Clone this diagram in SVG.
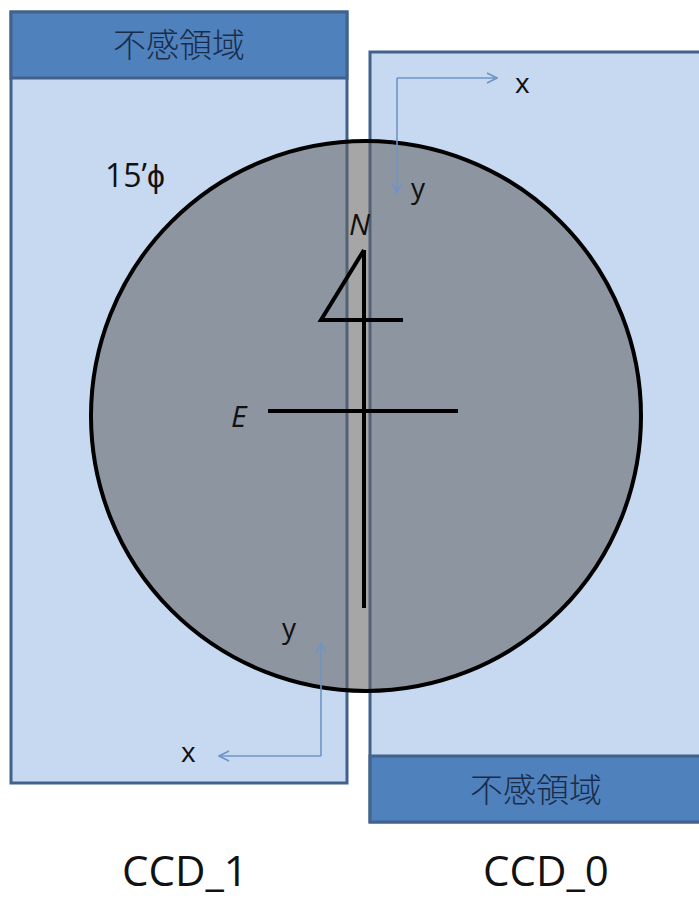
<svg xmlns="http://www.w3.org/2000/svg" width="699" height="899" viewBox="0 0 699 899">
<style>
.body{fill:#c6d9f1;stroke:#41628c;stroke-width:3}
.hdr{fill:#4f81bd;stroke:#41628c;stroke-width:3}
.hdrtxt{font-family:"Noto Sans CJK JP","Noto Sans CJK SC",sans-serif;font-size:33px;font-weight:300;fill:#1a2c4a;text-anchor:middle;dominant-baseline:central}
.lbl{font-family:"Open Sans","Liberation Sans",sans-serif;fill:#111}
.ax{fill:none;stroke:#6e94c4;stroke-width:1.6}
.sym{fill:none;stroke:#000;stroke-width:4;stroke-linejoin:miter}
</style>
<defs>
<marker id="oa" viewBox="0 0 12 12" refX="11" refY="6" markerWidth="12" markerHeight="12" markerUnits="userSpaceOnUse" orient="auto">
<path d="M1,1 L11,6 L1,11" fill="none" stroke="#6e94c4" stroke-width="1.6"/>
</marker>
</defs>
<g id="ccd1">
<rect class="body" x="11" y="12" width="336" height="771"/>
<rect class="hdr" x="11" y="12" width="336" height="66"/>
<text class="hdrtxt" x="179" y="43">不感領域</text>
</g>
<g id="ccd0">
<rect class="body" x="370" y="52" width="340" height="770"/>
<rect class="hdr" x="370" y="756" width="340" height="66"/>
<text class="hdrtxt" x="536" y="788">不感領域</text>
</g>
<g id="field">
<circle cx="366" cy="416" r="275" fill="#606060" fill-opacity="0.56" stroke="#000" stroke-width="4"/>
<text class="lbl" x="105" y="187" font-size="32">15’ϕ</text>
</g>
<g id="compass">
<path class="sym" d="M364,250 V608"/>
<path class="sym" d="M364,250 L321,320 H403"/>
<path class="sym" d="M268,411 H458"/>
<text class="lbl" x="349" y="235" font-size="30" font-style="italic">N</text>
<text class="lbl" x="231" y="427" font-size="30" font-style="italic">E</text>
</g>
<g id="connectors">
<path class="ax" d="M397,78 H497" marker-end="url(#oa)"/>
<path class="ax" d="M397,78 V193" marker-end="url(#oa)"/>
<path class="ax" d="M321,756 V643" marker-end="url(#oa)"/>
<path class="ax" d="M321,756 H219" marker-end="url(#oa)"/>
</g>
<g id="axislabels">
<text class="lbl" x="515" y="93" font-size="28">x</text>
<text class="lbl" x="411" y="198" font-size="28">y</text>
<text class="lbl" x="282" y="638" font-size="28">y</text>
<text class="lbl" x="181" y="762" font-size="28">x</text>
</g>
<g id="captions">
<text class="lbl" x="185" y="886" font-size="42" text-anchor="middle">CCD_1</text>
<text class="lbl" x="546" y="886" font-size="42" text-anchor="middle">CCD_0</text>
</g>
</svg>
